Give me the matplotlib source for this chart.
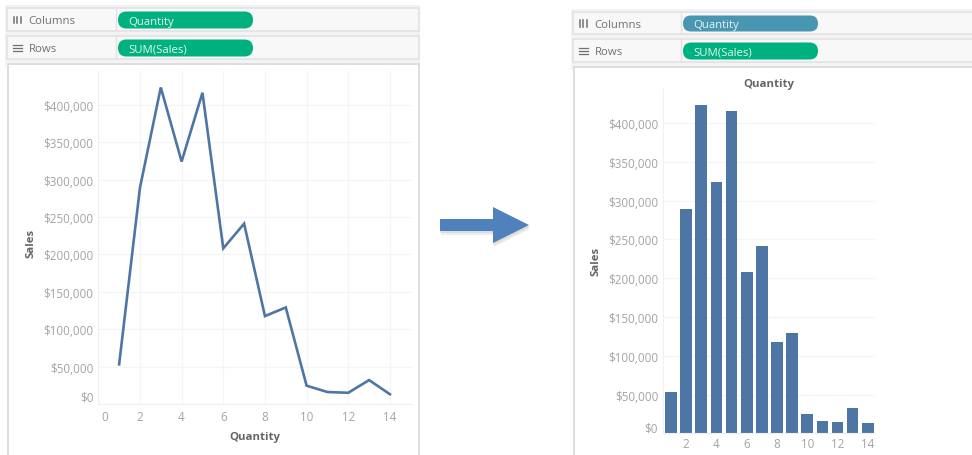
import matplotlib
matplotlib.use('Agg')
import matplotlib.pyplot as plt
from matplotlib.patches import FancyBboxPatch, Polygon, Rectangle
from matplotlib.transforms import ScaledTranslation

plt.rcParams['font.family'] = ['Open Sans', 'DejaVu Sans']

quantity = [1, 2, 3, 4, 5, 6, 7, 8, 9, 10, 11, 12, 13, 14]
sales = [53000, 289000, 423000, 324000, 416000, 208000, 241000, 117500, 129000,
         24500, 16000, 15000, 32000, 13000]
y_ticks = [0, 50000, 100000, 150000, 200000, 250000, 300000, 350000, 400000]
y_labels = ['$' + format(v, ',') for v in y_ticks]
line_x_ticks = [0, 2, 4, 6, 8, 10, 12, 14]
bar_x_ticks = [2, 4, 6, 8, 10, 12, 14]

W, H = 972, 456
BLUE = '#4e76a5'
GREEN = '#00b180'
TEAL = '#4996b2'
GRID = '#f5f5f5'
TICK = '#a4a4a4'
LABEL = '#666666'

fig = plt.figure(figsize=(W / 100, H / 100), dpi=100, facecolor='white')

# full figure layer in pixels for the shelves and the arrow
bg = fig.add_axes([0, 0, 1, 1])
bg.set_xlim(0, W)
bg.set_ylim(H, 0)
bg.axis('off')


def box(x0, y0, x1, y1, fc='#f8f8f8', ec='#e4e4e4', lw=1.3):
    bg.add_patch(Rectangle((x0, y0), x1 - x0, y1 - y0, fc=fc, ec=ec, lw=lw))


def pill(x0, y0, x1, y1, color, text):
    r = (y1 - y0) / 2
    bg.add_patch(FancyBboxPatch((x0 + r, y0 + r), x1 - x0 - 2 * r, 0,
                                boxstyle=f'round,pad={r},rounding_size={r}',
                                fc=color, ec='none'))
    bg.text(x0 + 10, (y0 + y1) / 2 + 1, text, color='#e6f5ef', fontsize=8.2,
            va='center', ha='left')


def shelves(left, right, divider, pill_x, ys, col_color):
    # ys: top/bottom of the columns box, rows box and top of the viz box
    (c0, c1), (r0, r1), v0 = ys
    box(left - 2, c0 - 3, right + 1, v0 + 3, fc='#f3f3f3', ec='none', lw=0)
    box(left, c0, right, c1)
    box(left, r0, right, r1)
    box(left + 1, v0, right, H + 5, fc='white', ec='#dedede', lw=1.4)
    bg.plot([divider, divider], [c0, c1], color='#e2e2e2', lw=1)
    bg.plot([divider, divider], [r0, r1], color='#e2e2e2', lw=1)
    pill(pill_x, c0 + 3.5, pill_x + 135, c1 - 2.5, col_color, 'Quantity')
    pill(pill_x, r0 + 3.5, pill_x + 135, r1 - 2.5, GREEN, 'SUM(Sales)')
    cy, ry = (c0 + c1) / 2 + 1, (r0 + r1) / 2 + 1
    bg.text(left + 21.5, cy, 'Columns', color='#707070', fontsize=8.2, va='center')
    bg.text(left + 21.5, ry, 'Rows', color='#707070', fontsize=8.2, va='center')
    # shelf icons
    for dx in (0, 3.3, 6.6):
        bg.plot([left + 7 + dx] * 2, [cy - 4, cy + 2.5], color='#707070', lw=1.1)
    for dy in (-3, 0, 3):
        bg.plot([left + 6, left + 15], [ry + dy - 1] * 2, color='#707070', lw=0.9)


shelves(7, 419, 116, 118, ((9, 32), (37, 60), 65), GREEN)
shelves(573, 975, 681, 683, ((13, 35), (40, 63), 68), TEAL)

# arrow with its soft shadow
arrow = [(440, 220), (493, 220), (493, 208), (529, 226), (493, 244), (493, 232), (440, 232)]
bg.add_patch(Polygon([(x + 1, y + 4) for x, y in arrow], fc='#ededed', ec='none'))
bg.add_patch(Polygon([(x + 0.5, y + 2) for x, y in arrow], fc='#dcdcdc', ec='none'))
bg.add_patch(Polygon(arrow, fc='#4f81bd', ec='none'))


def chart_axes(x0, x1, y_top, y_bottom):
    ax = fig.add_axes([x0 / W, 1 - y_bottom / H, (x1 - x0) / W, (y_bottom - y_top) / H])
    ax.patch.set_alpha(0)
    ax.set_axisbelow(True)
    for name in ('top', 'right'):
        ax.spines[name].set_visible(False)
    for name in ('left', 'bottom'):
        ax.spines[name].set_color('#f0f0f0')
    ax.set_yticks(y_ticks)
    ax.set_yticklabels(y_labels)
    ax.grid(True, axis='y', color=GRID, lw=1)
    ax.tick_params(length=0, colors=TICK, labelsize=8.4)
    return ax


def nudge(label, dx, dy):
    label.set_transform(label.get_transform() + ScaledTranslation(dx / 100, dy / 100, fig.dpi_scale_trans))


# line chart
ax1 = chart_axes(98.3, 412, 72, 405)
ax1.plot(quantity, sales, color=BLUE, lw=1.9, solid_joinstyle='miter')
ax1.set_xlim(0, 15.06)
ax1.set_ylim(0, 445000)
ax1.set_xticks(line_x_ticks)
ax1.grid(True, axis='x', color=GRID, lw=1)
ax1.tick_params(axis='x', pad=4)
ax1.tick_params(axis='y', pad=3.5)
nudge(ax1.get_yticklabels()[0], 0, 8)
nudge(ax1.get_xticklabels()[0], 6, 0)
ax1.set_xlabel('Quantity', color=LABEL, fontsize=8.2, fontweight='bold', labelpad=6)
ax1.set_ylabel('Sales', color=LABEL, fontsize=8.2, fontweight='bold')
ax1.yaxis.set_label_coords((36 - 98.3) / (412 - 98.3), (405 - 243) / (405 - 72))

# bar chart
ax2 = chart_axes(663, 875, 90, 434.3)
ax2.bar(quantity, sales, width=0.77, color=BLUE)
ax2.set_xlim(0.47, 14.48)
ax2.set_ylim(0, 444000)
ax2.set_xticks(bar_x_ticks)
ax2.tick_params(axis='x', pad=3)
ax2.tick_params(axis='y', pad=3.5)
nudge(ax2.get_yticklabels()[0], 0, 7)
ax2.set_title('Quantity', color=LABEL, fontsize=8.2, fontweight='bold', pad=1)
ax2.set_ylabel('Sales', color=LABEL, fontsize=8.2, fontweight='bold')
ax2.yaxis.set_label_coords((601 - 663) / (875 - 663), (434.3 - 261) / (434.3 - 90))

fig.savefig('out.png', dpi=100)
